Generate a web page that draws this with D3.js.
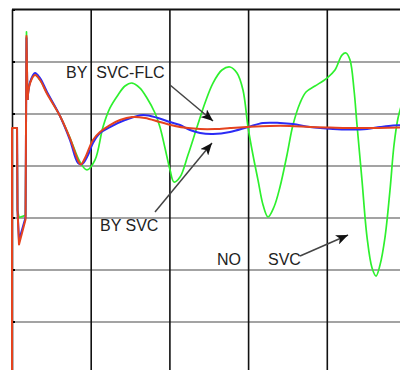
<!DOCTYPE html>
<html>
<head>
<meta charset="utf-8">
<script src="https://cdn.jsdelivr.net/npm/d3@7"></script>
<style>
  html, body { margin: 0; padding: 0; background: #fff; }
  svg { display: block; }
  text { font-family: "Liberation Sans", Arial, sans-serif; }
</style>
</head>
<body>
<svg id="chart" width="400" height="370"></svg>
<script>
// Time axis (s) and response (p.u. deviation) grid
const timeTicks = [0, 1, 2, 3, 4, 5];
const valueTicks = [1.5, 1.0, 0.5, 0.0, -0.5, -1.0, -1.5, -2.0];

// Fault switching instants end here; after it the swings are smooth
const transientEnd = 0.197;

// Response with SVC and fuzzy logic controller
const svcFlc = [
  [0, -2.0], [0, 0.36], [0.064, 0.36], [0.07, -0.43], [0.089, -0.76], [0.172, -0.52],
  [0.184, 1.245], [0.197, 0.63], [0.229, 0.79], [0.292, 0.87], [0.356, 0.822],
  [0.445, 0.69], [0.61, 0.476], [0.737, 0.26], [0.85, 0.03], [0.875, 0.01],
  [0.928, 0.072], [1.029, 0.245], [1.118, 0.322], [1.245, 0.389], [1.372, 0.437],
  [1.525, 0.466], [1.69, 0.457], [1.88, 0.418], [2.07, 0.38], [2.236, 0.36],
  [2.39, 0.351], [2.58, 0.351], [2.77, 0.36], [2.986, 0.37], [3.278, 0.38],
  [3.53, 0.38], [3.79, 0.37], [4.04, 0.365], [4.42, 0.36], [4.93, 0.365], [5.0, 0.365]
];

// Response with SVC only
const svcOnly = [
  [0, 0.36], [0.064, 0.36], [0.07, -0.43], [0.089, -0.72], [0.172, -0.5],
  [0.184, 1.226], [0.197, 0.63], [0.229, 0.80], [0.292, 0.89], [0.356, 0.84],
  [0.445, 0.707], [0.61, 0.476], [0.737, 0.245], [0.839, 0.024], [0.89, 0.014],
  [0.966, 0.101], [1.029, 0.216], [1.118, 0.312], [1.245, 0.37], [1.436, 0.437],
  [1.665, 0.486], [1.855, 0.457], [2.008, 0.418], [2.135, 0.389], [2.262, 0.341],
  [2.39, 0.312], [2.554, 0.303], [2.77, 0.322], [2.999, 0.37], [3.19, 0.409],
  [3.405, 0.409], [3.57, 0.399], [3.787, 0.37], [4.079, 0.351], [4.295, 0.346],
  [4.511, 0.351], [4.676, 0.37], [4.841, 0.385], [5.0, 0.385]
];

// Response without SVC
const noSvc = [
  [0, 0.36], [0.064, 0.36], [0.07, -0.43], [0.089, -0.5], [0.172, -0.48],
  [0.184, 1.284], [0.197, 0.63], [0.229, 0.80], [0.292, 0.87], [0.356, 0.822],
  [0.445, 0.697], [0.61, 0.476], [0.737, 0.264], [0.864, 0.034], [0.953, -0.043],
  [1.055, 0.053], [1.156, 0.37], [1.245, 0.553], [1.347, 0.678], [1.436, 0.764],
  [1.525, 0.793], [1.626, 0.745], [1.715, 0.649], [1.817, 0.505], [1.88, 0.37],
  [1.944, 0.168], [2.008, -0.043], [2.058, -0.159], [2.135, -0.111], [2.236, 0.101],
  [2.351, 0.37], [2.452, 0.601], [2.554, 0.793], [2.668, 0.918], [2.77, 0.947],
  [2.859, 0.889], [2.935, 0.726], [2.999, 0.37], [3.062, 0.101], [3.126, -0.14],
  [3.19, -0.38], [3.253, -0.495], [3.329, -0.399], [3.405, -0.207], [3.494, 0.101],
  [3.57, 0.389], [3.66, 0.601], [3.736, 0.707], [3.85, 0.764], [4.003, 0.841],
  [4.104, 0.918], [4.193, 1.062], [4.244, 1.082], [4.295, 1.014], [4.346, 0.726],
  [4.384, 0.389], [4.447, -0.14], [4.511, -0.688], [4.575, -0.986], [4.626, -1.063],
  [4.676, -0.957], [4.74, -0.688], [4.803, -0.236], [4.854, 0.197], [4.905, 0.457],
  [4.968, 0.63]
];

// Annotation labels and arrows, in data units
const labels = [
  { text: "BY\u00a0\u00a0SVC-FLC", t: 0.686, v: 0.841 },
  { text: "BY SVC", t: 1.118, v: -0.63 },
  { text: "NO", t: 2.605, v: -0.957 },
  { text: "SVC", t: 3.253, v: -0.957 }
];
const arrows = [
  { from: [2.008, 0.774], to: [2.554, 0.428] },
  { from: [1.817, -0.447], to: [2.541, 0.216] },
  { from: [3.66, -0.87], to: [4.27, -0.668] }
];

const svg = d3.select("#chart");
const x = d3.scaleLinear().domain([0, 5]).range([12, 405.5]);
const y = d3.scaleLinear().domain([1.5, -2.0]).range([9.5, 373.5]);

// Horizontal grid (grey)
svg.append("g")
  .attr("transform", `translate(${x(0)},0)`)
  .call(d3.axisLeft(y).tickValues(valueTicks.slice(1)).tickSize(-(x(5) - x(0))).tickFormat(""))
  .call(g => g.select(".domain").remove())
  .call(g => g.selectAll("line").attr("stroke", "#858585").attr("stroke-width", 1.5));

// Vertical grid (black)
svg.append("g")
  .attr("transform", `translate(0,${y(1.5)})`)
  .call(d3.axisTop(x).tickValues(timeTicks).tickSize(-(y(-2.0) - y(1.5))).tickFormat(""))
  .call(g => g.select(".domain").remove())
  .call(g => g.selectAll("line").attr("stroke", "#111").attr("stroke-width", 1.6));

// Short tick marks on the frame
svg.append("g")
  .attr("transform", `translate(${x(0)},0)`)
  .call(d3.axisLeft(y).tickValues(valueTicks).tickSize(-3).tickFormat(""))
  .call(g => g.select(".domain").remove())
  .call(g => g.selectAll("line").attr("stroke", "#000").attr("stroke-width", 2));

// Top border
svg.append("line")
  .attr("x1", x(0)).attr("x2", 400)
  .attr("y1", y(1.5)).attr("y2", y(1.5))
  .attr("stroke", "#111").attr("stroke-width", 2);

// Switching part drawn straight, swings drawn smooth
const sharp = d3.line().x(d => x(d[0])).y(d => y(d[1])).curve(d3.curveLinear);
const smooth = d3.line().x(d => x(d[0])).y(d => y(d[1])).curve(d3.curveCatmullRom.alpha(0.5));

svg.append("clipPath").attr("id", "plot")
  .append("rect").attr("x", 0).attr("y", y(1.5)).attr("width", 400).attr("height", 370);

const plot = svg.append("g").attr("clip-path", "url(#plot)");

const series = [
  { data: noSvc, color: "#2ef02e", width: 1.7 },
  { data: svcOnly, color: "#2b2bf5", width: 2 },
  { data: svcFlc, color: "#e5431e", width: 2 }
];

series.forEach(s => {
  const head = s.data.filter(d => d[0] <= transientEnd);
  const tail = s.data.filter(d => d[0] >= transientEnd);
  const g = plot.append("g")
    .attr("fill", "none")
    .attr("stroke", s.color)
    .attr("stroke-width", s.width)
    .attr("stroke-linejoin", "round");
  g.append("path").datum(head).attr("d", sharp);
  g.append("path").datum(tail).attr("d", smooth);
});

// Arrowhead marker
svg.append("defs").append("marker")
  .attr("id", "head")
  .attr("viewBox", "0 0 12 10")
  .attr("refX", 12).attr("refY", 5)
  .attr("markerWidth", 12).attr("markerHeight", 10)
  .attr("markerUnits", "userSpaceOnUse")
  .attr("orient", "auto")
  .append("path").attr("d", "M0,0 L12,5 L0,10 L3,5 Z").attr("fill", "#111");

svg.selectAll("line.arrow").data(arrows).join("line")
  .attr("class", "arrow")
  .attr("x1", d => x(d.from[0])).attr("y1", d => y(d.from[1]))
  .attr("x2", d => x(d.to[0])).attr("y2", d => y(d.to[1]))
  .attr("stroke", "#444").attr("stroke-width", 1.5)
  .attr("marker-end", "url(#head)");

svg.selectAll("text.lbl").data(labels).join("text")
  .attr("class", "lbl")
  .attr("x", d => x(d.t)).attr("y", d => y(d.v))
  .attr("font-size", 16).attr("fill", "#222")
  .text(d => d.text);
</script>
</body>
</html>
